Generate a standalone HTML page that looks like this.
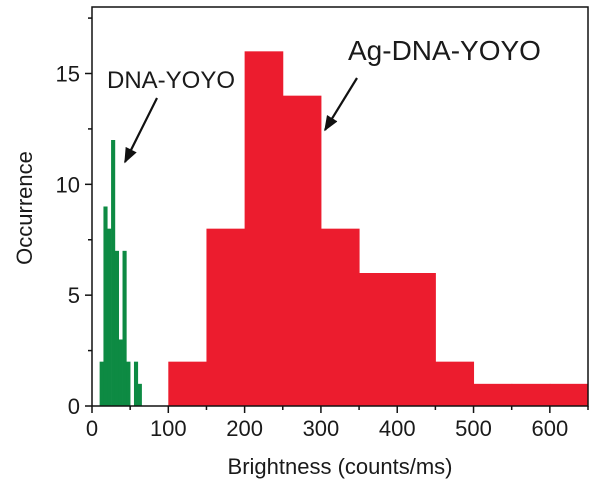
<!DOCTYPE html>
<html><head><meta charset="utf-8"><style>body{margin:0;background:#fff}svg{display:block}text{font-family:"Liberation Sans",Arial,sans-serif;fill:#1a1a1a}</style></head>
<body>
<svg id="c" width="600" height="491">
<defs><marker id="ah" viewBox="0 0 10 10" refX="9" refY="5" markerWidth="7" markerHeight="7" orient="auto"><path d="M0,1 L10,5 L0,9 z" fill="#111"/></marker></defs>
<g id="bars"></g>
<g id="axes"></g>
<text x="107" y="88" font-size="24">DNA-YOYO</text>
<line x1="157" y1="98" x2="125" y2="162" stroke="#111" stroke-width="2.2" marker-end="url(#ah)"/>
<text x="348" y="60" font-size="28">Ag-DNA-YOYO</text>
<line x1="357" y1="78" x2="325" y2="130" stroke="#111" stroke-width="2.2" marker-end="url(#ah)"/>
<text x="340" y="474" font-size="22" text-anchor="middle">Brightness (counts/ms)</text>
<text x="0" y="0" font-size="22" text-anchor="middle" transform="translate(32,208) rotate(-90)">Occurrence</text>
</svg>
<script>
const greenStarts=[10,15,20,25,30,35,40,45,55,60];
const greenCounts=[2,9,8,12,7,3,7,2,2,1];
const greenWidth=5;
const redStarts=[100,150,200,250,300,350,400,450,500,550,600];
const redCounts=[2,8,16,14,8,6,6,2,1,1,1];
const redWidth=50;
const xTicks=[0,100,200,300,400,500,600];
const yTicks=[0,5,10,15];
const X0=92,X1=588,Y0=406,Y1=7,XMAX=650,YMAX=18;
const sx=v=>X0+(X1-X0)*v/XMAX, sy=v=>Y0-(Y0-Y1)*v/YMAX;
const NS='http://www.w3.org/2000/svg';
function mk(t,a,p){const e=document.createElementNS(NS,t);for(const k in a)e.setAttribute(k,a[k]);p.appendChild(e);return e;}
const bars=document.getElementById('bars'),axes=document.getElementById('axes');
redStarts.forEach((s,i)=>{const r=mk('rect',{x:sx(s),y:sy(redCounts[i]),width:sx(s+redWidth)-sx(s)+0.5,height:sy(0)-sy(redCounts[i]),fill:'#ec1c2e'},bars);

});
greenStarts.forEach((s,i)=>{const r=mk('rect',{x:sx(s),y:sy(greenCounts[i]),width:sx(s+greenWidth)-sx(s)+0.3,height:sy(0)-sy(greenCounts[i]),fill:'#0d8a43'},bars);

});
const f=mk('rect',{x:X0,y:Y1,width:X1-X0,height:Y0-Y1,fill:'none',stroke:'#111','stroke-width':1.5},axes);


xTicks.forEach(v=>{mk('line',{x1:sx(v),x2:sx(v),y1:Y0,y2:Y0+7,stroke:'#111','stroke-width':1.5},axes);
mk('line',{x1:sx(v+50),x2:sx(v+50),y1:Y0,y2:Y0+4,stroke:'#111','stroke-width':1.5},axes);
const t=mk('text',{x:sx(v),y:Y0+30,'font-size':22,'text-anchor':'middle'},axes);t.textContent=v;

});
yTicks.forEach(v=>{mk('line',{x1:X0-7,x2:X0,y1:sy(v),y2:sy(v),stroke:'#111','stroke-width':1.5},axes);
mk('line',{x1:X0-4,x2:X0,y1:sy(v+2.5),y2:sy(v+2.5),stroke:'#111','stroke-width':1.5},axes);
const t=mk('text',{x:X0-12,y:sy(v)+8,'font-size':22,'text-anchor':'end'},axes);t.textContent=v;

});
</script>
</body></html>
